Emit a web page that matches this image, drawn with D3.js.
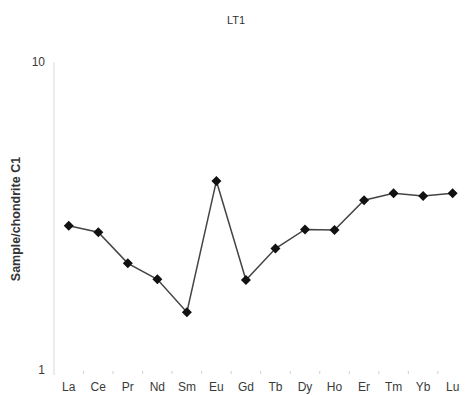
<!DOCTYPE html>
<html>
<head>
<meta charset="utf-8">
<script src="https://cdn.jsdelivr.net/npm/d3@7"></script>
<style>
  html, body { margin: 0; padding: 0; background: #fff; }
  svg { display: block; font-family: "Liberation Sans", Arial, sans-serif; }
</style>
</head>
<body>
<svg id="chart" width="465" height="395"></svg>
<script>
// Chondrite-normalised REE pattern for sample LT1
const elements = ["La", "Ce", "Pr", "Nd", "Sm", "Eu", "Gd", "Tb", "Dy", "Ho", "Er", "Tm", "Yb", "Lu"];
const normValues = [2.94, 2.80, 2.22, 1.97, 1.54, 4.11, 1.96, 2.48, 2.86, 2.85, 3.56, 3.75, 3.67, 3.75];
const yTickValues = [1, 10];

const svg = d3.select("#chart");
const plotLeft = 54, plotRight = 467.4, plotTop = 62, plotBottom = 370;

const x = d3.scaleBand().domain(elements).range([plotLeft, plotRight]);
const y = d3.scaleLog().domain([1, 10]).range([plotBottom, plotTop]);

// Title
svg.append("text")
  .attr("x", 236).attr("y", 24)
  .attr("text-anchor", "middle")
  .attr("font-size", 11).attr("fill", "#333")
  .text("LT1");

// Y axis: light vertical line with labels at decades only
const yAxis = svg.append("g")
  .attr("transform", `translate(${plotLeft},0)`)
  .call(d3.axisLeft(y).tickValues(yTickValues).tickFormat(d3.format("d")).tickSize(0).tickPadding(9));
yAxis.select(".domain").attr("stroke", "#d9d9d9").attr("d", `M0,${plotTop}V${plotBottom + 5}`);
yAxis.selectAll("text").attr("font-size", 12).attr("fill", "#3a3a3a").attr("font-family", "Liberation Sans, Arial, sans-serif");

// X axis: category labels with faint boundary ticks, no baseline
const xAxis = svg.append("g")
  .attr("transform", `translate(0,${plotBottom + 2})`)
  .call(d3.axisBottom(x).tickSize(0).tickPadding(10));
xAxis.select(".domain").remove();
xAxis.selectAll("text").attr("font-size", 12).attr("fill", "#3a3a3a").attr("font-family", "Liberation Sans, Arial, sans-serif");
svg.append("g")
  .selectAll("line")
  .data(elements.slice(1))
  .join("line")
  .attr("x1", d => x(d)).attr("x2", d => x(d))
  .attr("y1", plotBottom + 1).attr("y2", plotBottom + 4)
  .attr("stroke", "#cfcfcf").attr("stroke-width", 1);

// Y axis title
svg.append("text")
  .attr("transform", `translate(20,219) rotate(-90)`)
  .attr("text-anchor", "middle")
  .attr("font-size", 12.5).attr("font-weight", "bold").attr("fill", "#333")
  .text("Sample/chondrite C1");

const pts = elements.map((e, i) => [x(e) + x.bandwidth() / 2, y(normValues[i])]);

// Connecting line
svg.append("path")
  .datum(pts)
  .attr("fill", "none")
  .attr("stroke", "#444")
  .attr("stroke-width", 1.5)
  .attr("d", d3.line());

// Diamond markers
svg.append("g")
  .selectAll("path")
  .data(pts)
  .join("path")
  .attr("transform", d => `translate(${d[0]},${d[1]})`)
  .attr("d", "M0,-5L5,0L0,5L-5,0Z")
  .attr("fill", "#111");
</script>
</body>
</html>
